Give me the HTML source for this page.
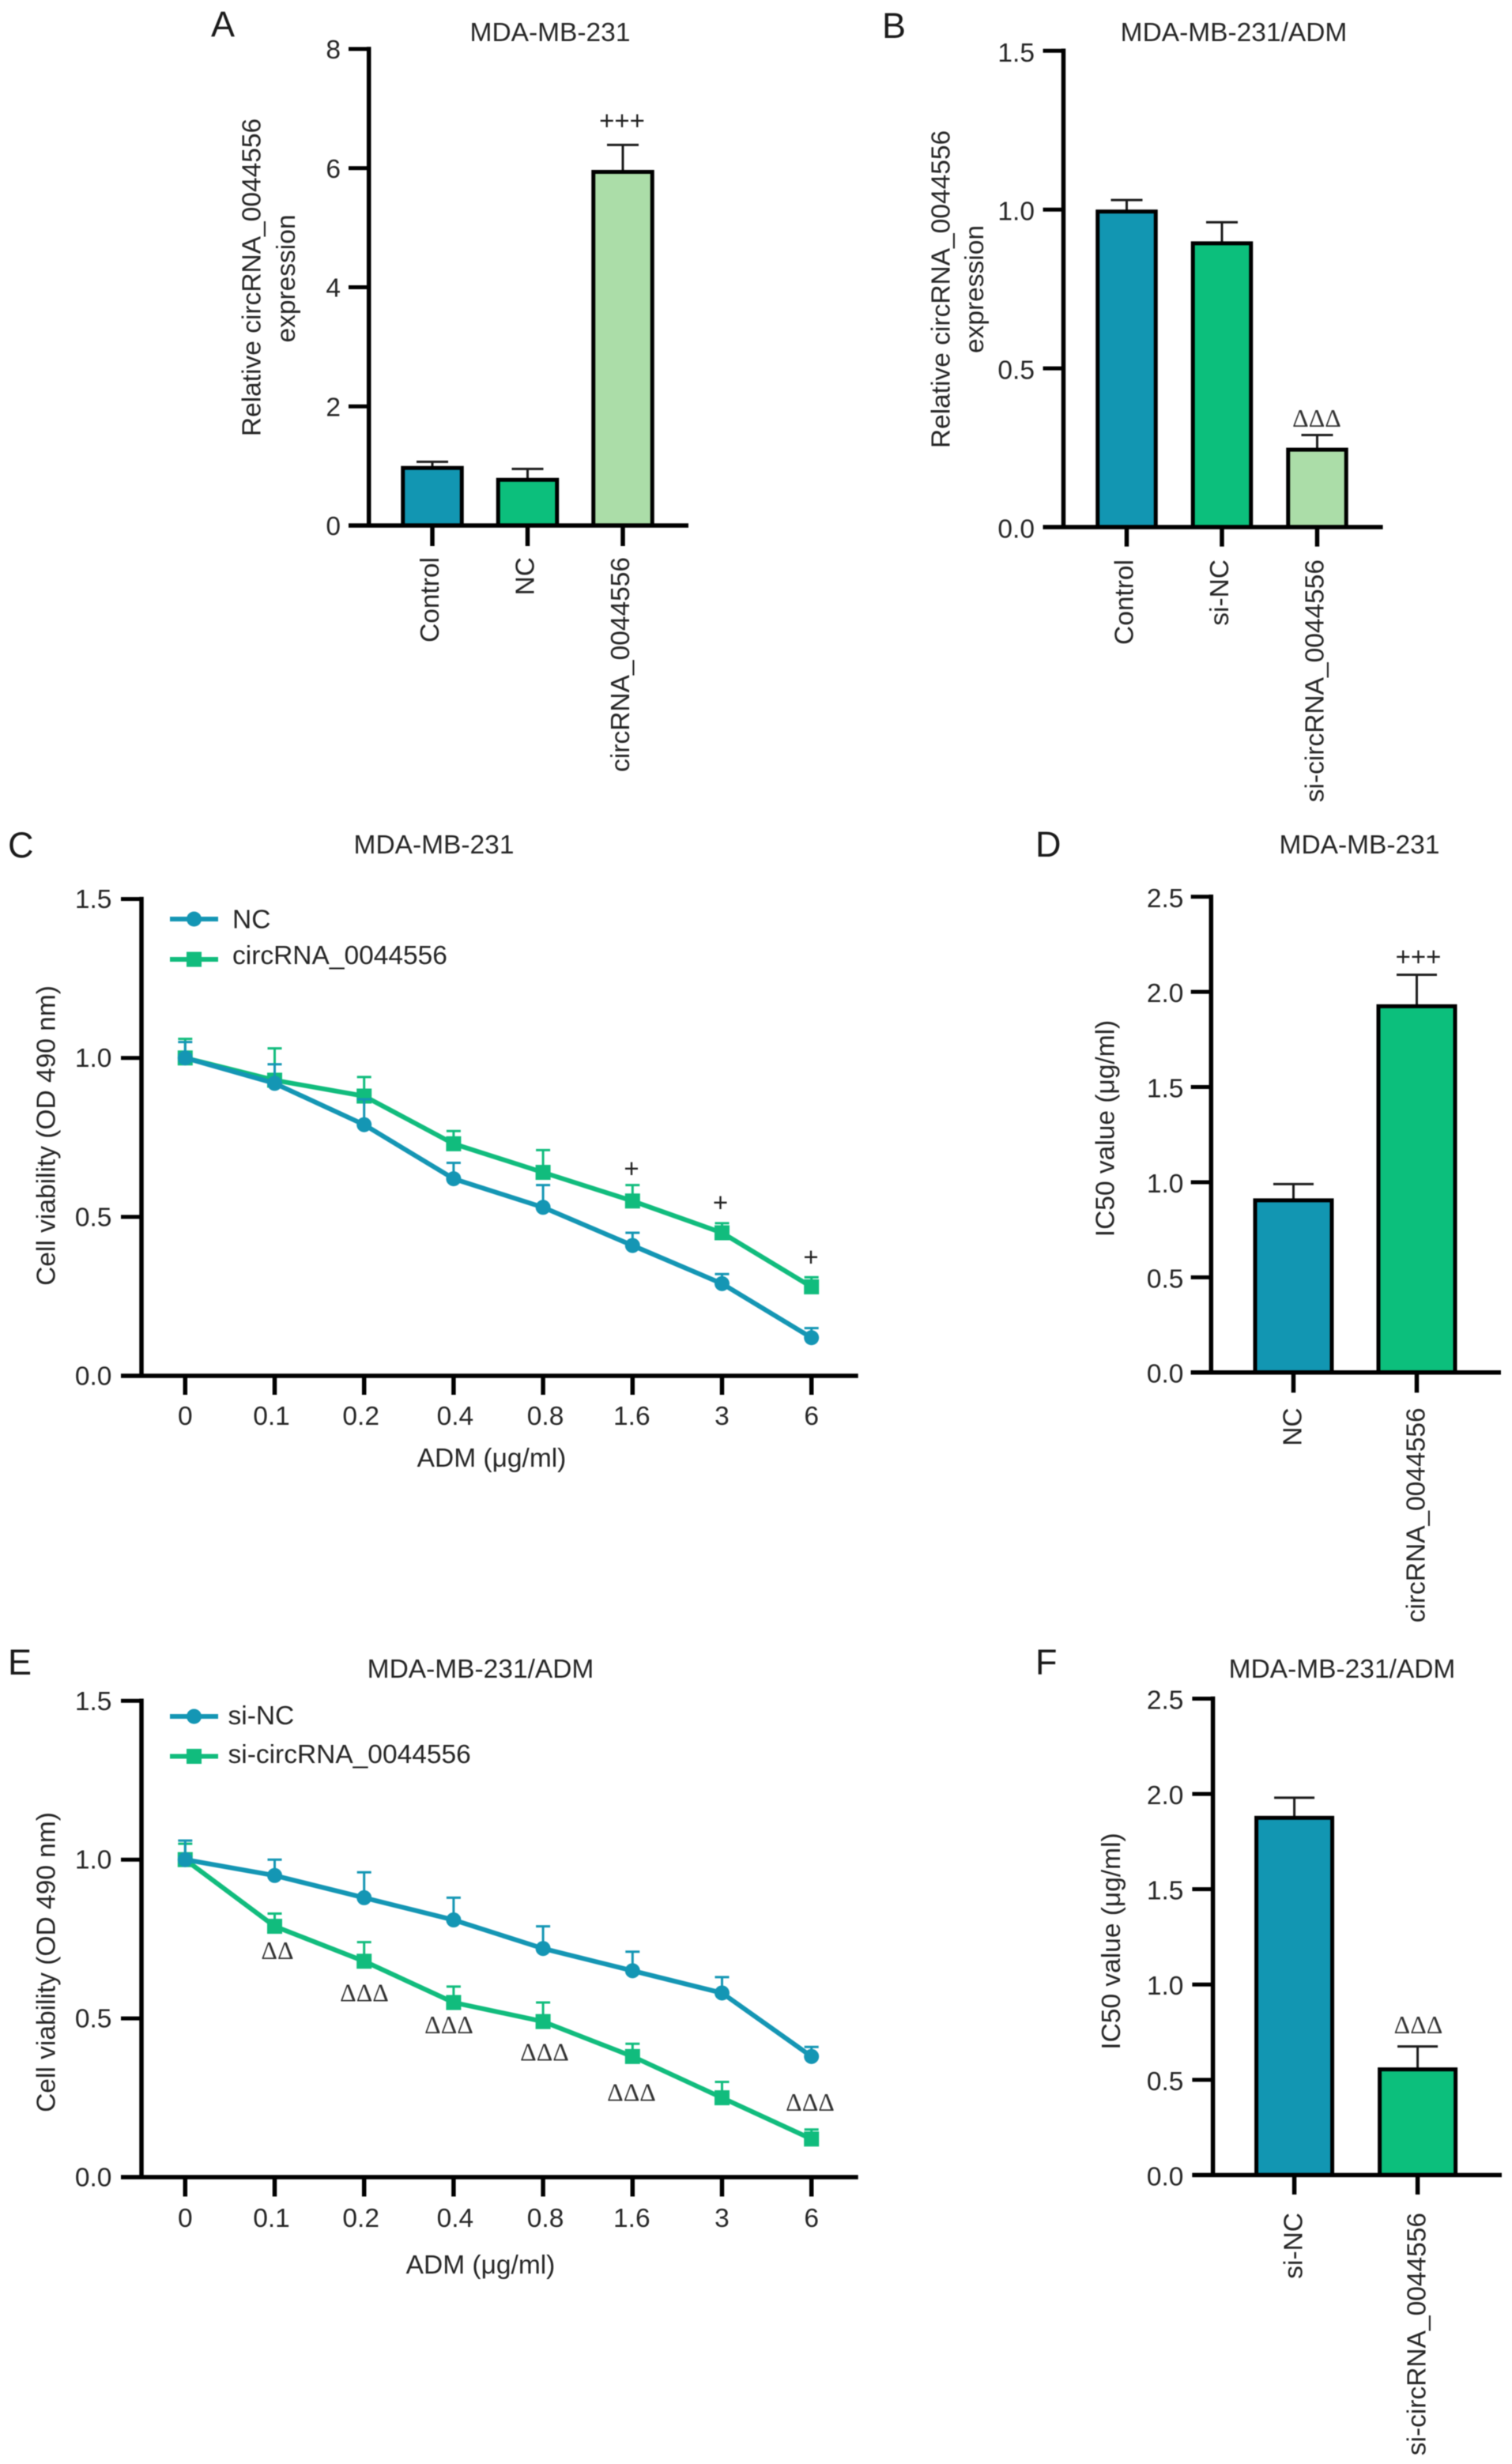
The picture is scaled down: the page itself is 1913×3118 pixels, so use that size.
<!DOCTYPE html>
<html lang="en">
<head>
<meta charset="utf-8">
<title>circRNA_0044556 figure panels A-F</title>
<style>
html,body{margin:0;padding:0;background:#fff;}
svg{display:block;filter:blur(0.55px);}
text{font-family:"Liberation Sans",sans-serif;font-size:33.5px;fill:#262626;}
.letter{font-size:45px;fill:#1a1a1a;}
.sig{font-family:"Liberation Serif",serif;font-size:32px;text-anchor:middle;fill:#333;}
.plus{font-family:"Liberation Sans",sans-serif;font-size:33px;text-anchor:middle;fill:#222;}
.mid{text-anchor:middle;}
</style>
</head>
<body>
<svg id="fig" xmlns="http://www.w3.org/2000/svg" width="1913" height="3118" viewBox="0 0 1913 3118">
<rect x="0" y="0" width="1913" height="3118" fill="#fff"/>

<g id="panel-a">
  <text class="letter" x="267" y="46">A</text>
  <text class="mid" x="696" y="52">MDA-MB-231</text>
  <text class="mid" transform="translate(329.5,351) rotate(-90)">Relative circRNA_0044556</text>
  <text class="mid" transform="translate(373,352.5) rotate(-90)">expression</text>
  <text class="plus" x="787" y="164">+++</text>
</g>

<g id="panel-b">
  <text class="letter" x="1116" y="48">B</text>
  <text class="mid" x="1561" y="52">MDA-MB-231/ADM</text>
  <text class="mid" transform="translate(1201.5,366) rotate(-90)">Relative circRNA_0044556</text>
  <text class="mid" transform="translate(1244,366) rotate(-90)">expression</text>
  <text class="sig" x="1666" y="540">ΔΔΔ</text>
</g>

<g id="panel-c">
  <text class="letter" x="10" y="1085">C</text>
  <text class="mid" x="549" y="1080">MDA-MB-231</text>
  <text class="mid" transform="translate(69.5,1437) rotate(-90)">Cell viability (OD 490 nm)</text>
  <text class="mid" x="622" y="1856">ADM (μg/ml)</text>
  <g>
    <g>
      <line x1="215" x2="276" y1="1163" y2="1163" stroke="#1496B4" stroke-width="6"/>
      <circle cx="245.5" cy="1163" r="9.5" fill="#1496B4"/>
      <text x="294" y="1174.5">NC</text>
    </g>
    <g>
      <line x1="215" x2="276" y1="1214" y2="1214" stroke="#11BC7D" stroke-width="6"/>
      <rect x="236" y="1204.5" width="19" height="19" fill="#11BC7D"/>
      <text x="294" y="1220">circRNA_0044556</text>
    </g>
  </g>
  <text class="plus" x="799" y="1490">+</text>
  <text class="plus" x="911.5" y="1533">+</text>
  <text class="plus" x="1026" y="1602">+</text>
</g>

<g id="panel-d">
  <text class="letter" x="1310" y="1084">D</text>
  <text class="mid" x="1720" y="1080">MDA-MB-231</text>
  <text class="mid" transform="translate(1409.5,1428) rotate(-90)">IC50 value (μg/ml)</text>
  <text class="plus" x="1794.5" y="1222">+++</text>
</g>

<g id="panel-e">
  <text class="letter" x="10" y="2119">E</text>
  <text class="mid" x="608" y="2123">MDA-MB-231/ADM</text>
  <text class="mid" transform="translate(69.5,2483) rotate(-90)">Cell viability (OD 490 nm)</text>
  <text class="mid" x="608" y="2877">ADM (μg/ml)</text>
  <g>
    <g>
      <line x1="215" x2="276" y1="2172" y2="2172" stroke="#1496B4" stroke-width="6"/>
      <circle cx="245.5" cy="2172" r="9.5" fill="#1496B4"/>
      <text x="288.5" y="2182">si-NC</text>
    </g>
    <g>
      <line x1="215" x2="276" y1="2222.5" y2="2222.5" stroke="#11BC7D" stroke-width="6"/>
      <rect x="236" y="2213" width="19" height="19" fill="#11BC7D"/>
      <text x="288.5" y="2231">si-circRNA_0044556</text>
    </g>
  </g>
  <text class="sig" x="351" y="2479">ΔΔ</text>
  <text class="sig" x="461" y="2532.5">ΔΔΔ</text>
  <text class="sig" x="568" y="2573">ΔΔΔ</text>
  <text class="sig" x="689" y="2607.5">ΔΔΔ</text>
  <text class="sig" x="799" y="2658.5">ΔΔΔ</text>
  <text class="sig" x="1025" y="2671">ΔΔΔ</text>
</g>

<g id="panel-f">
  <text class="letter" x="1310" y="2118.5">F</text>
  <text class="mid" x="1698" y="2123">MDA-MB-231/ADM</text>
  <text class="mid" transform="translate(1417,2456.5) rotate(-90)">IC50 value (μg/ml)</text>
  <text class="sig" x="1794.5" y="2573">ΔΔΔ</text>
</g>
</svg>

<script>
// ---- Panel A ----
const aCategories = ['Control', 'NC', 'circRNA_0044556'];
const aValues = [1.0, 0.8, 5.97];
const aErrors = [0.07, 0.15, 0.42];
const aTicks = ['0', '2', '4', '6', '8'];
// ---- Panel B ----
const bCategories = ['Control', 'si-NC', 'si-circRNA_0044556'];
const bValues = [1.0, 0.9, 0.25];
const bErrors = [0.03, 0.06, 0.04];
const bTicks = ['0.0', '0.5', '1.0', '1.5'];
// ---- Panel C ----
const doseLabels = ['0', '0.1', '0.2', '0.4', '0.8', '1.6', '3', '6'];
const viabilityTicks = ['0.0', '0.5', '1.0', '1.5'];
const cNcValues = [1.0, 0.92, 0.79, 0.62, 0.53, 0.41, 0.29, 0.12];
const cNcErrors = [0.05, 0.06, 0.08, 0.05, 0.07, 0.04, 0.03, 0.03];
const cCircValues = [1.0, 0.93, 0.88, 0.73, 0.64, 0.55, 0.45, 0.28];
const cCircErrors = [0.06, 0.10, 0.06, 0.04, 0.07, 0.05, 0.03, 0.03];
// ---- Panel D ----
const dCategories = ['NC', 'circRNA_0044556'];
const dValues = [0.915, 1.935];
const dErrors = [0.075, 0.155];
const icTicks = ['0.0', '0.5', '1.0', '1.5', '2.0', '2.5'];
// ---- Panel E ----
const eNcValues = [1.0, 0.95, 0.88, 0.81, 0.72, 0.65, 0.58, 0.38];
const eNcErrors = [0.06, 0.05, 0.08, 0.07, 0.07, 0.06, 0.05, 0.03];
const eCircValues = [1.0, 0.79, 0.68, 0.55, 0.49, 0.38, 0.25, 0.12];
const eCircErrors = [0.05, 0.04, 0.06, 0.05, 0.06, 0.04, 0.05, 0.03];
// ---- Panel F ----
const fCategories = ['si-NC', 'si-circRNA_0044556'];
const fValues = [1.885, 0.565];
const fErrors = [0.095, 0.11];

const NS = 'http://www.w3.org/2000/svg';
const BLUE = '#1296B2';
const GREEN = '#0CBF7C';
const PALE = '#ABDDA8';
const LINE_BLUE = '#1496B4';
const LINE_GREEN = '#11BC7D';

function mk(parent, tag, attrs, txt) {
  const el = document.createElementNS(NS, tag);
  for (const k in attrs) el.setAttribute(k, attrs[k]);
  if (txt !== undefined) el.textContent = txt;
  parent.appendChild(el);
  return el;
}

function linearY(y0, yTop, maxVal) {
  return function (v) { return y0 - (v / maxVal) * (y0 - yTop); };
}

function drawYAxis(g, g2, ticks, yOf) {
  let el = mk(g, 'line', { x1: g2.axisX, x2: g2.axisX, y1: yOf(parseFloat(ticks[ticks.length - 1])) - 2.75, y2: g2.y0, stroke: '#000', 'stroke-width': 5.5 });
  
  
  ticks.forEach(function (label) {
    const y = yOf(parseFloat(label));
    const t = mk(g, 'line', { x1: g2.tickLeft, x2: g2.axisX, y1: y, y2: y, stroke: '#000', 'stroke-width': 5 });
    
    
    const l = mk(g, 'text', { x: g2.numRight, y: y + g2.numDrop, 'text-anchor': 'end' }, label);
    
    
  });
}

function drawXAxisLine(g, g2) {
  const el = mk(g, 'line', { x1: g2.tickLeft, x2: g2.xEnd, y1: g2.y0, y2: g2.y0, stroke: '#000', 'stroke-width': 5.5 });
  
  
}

function drawBars(id, g2, categories, values, errors, ticks, colors) {
  const g = document.getElementById(id);
  const yOf = linearY(g2.y0, g2.yTop, g2.maxVal);
  categories.forEach(function (cat, i) {
    const cx = g2.first + i * g2.step;
    const top = yOf(values[i]) + 2.5;
    const capY = yOf(values[i] + errors[i]);
    const stem = mk(g, 'line', { x1: cx, x2: cx, y1: capY, y2: top, stroke: '#1c1c1c', 'stroke-width': 3 });
    
    
    const cap = mk(g, 'line', { x1: cx - g2.cap / 2, x2: cx + g2.cap / 2, y1: capY, y2: capY, stroke: '#1c1c1c', 'stroke-width': 3 });
    
    
    const bar = mk(g, 'rect', { x: cx - g2.bw / 2 + 2.5, y: top, width: g2.bw - 5, height: g2.y0 - top, fill: colors[i], stroke: '#000', 'stroke-width': 5 });
    
    
    const tick = mk(g, 'line', { x1: cx, x2: cx, y1: g2.y0, y2: g2.tickBottom, stroke: '#000', 'stroke-width': 5.5 });
    
    
    const bx = cx + g2.labelShift;
    const lab = mk(g, 'text', { transform: 'translate(' + bx + ',' + g2.labelTop + ') rotate(-90)', 'text-anchor': 'end' }, cat);
    
    
  });
  drawYAxis(g, g2, ticks, yOf);
  drawXAxisLine(g, g2);
}

function drawSeries(g, xOf, yOf, values, errors, color, shape) {
  values.forEach(function (v, i) {
    const x = xOf(i);
    const capY = yOf(v + errors[i]);
    const stem = mk(g, 'line', { x1: x, x2: x, y1: capY, y2: yOf(v), stroke: color, 'stroke-width': 3 });
    
    
    const cap = mk(g, 'line', { x1: x - 9, x2: x + 9, y1: capY, y2: capY, stroke: color, 'stroke-width': 3 });
    
    
  });
  const pts = values.map(function (v, i) { return xOf(i) + ',' + yOf(v); }).join(' ');
  const line = mk(g, 'polyline', { points: pts, fill: 'none', stroke: color, 'stroke-width': 6, 'stroke-linejoin': 'round' });
  
  
  values.forEach(function (v, i) {
    const x = xOf(i), y = yOf(v);
    let m;
    if (shape === 'circle') {
      m = mk(g, 'circle', { cx: x, cy: y, r: 9.5, fill: color });
    } else {
      m = mk(g, 'rect', { x: x - 9.5, y: y - 9.5, width: 19, height: 19, fill: color });
    }
    
    
  });
}

function drawLines(id, g2, ticks, labels, circ, circErr, nc, ncErr) {
  const g = document.getElementById(id);
  const yOf = linearY(g2.y0, g2.yTop, g2.maxVal);
  const xOf = function (i) { return g2.first + i * g2.step; };
  labels.forEach(function (label, i) {
    const x = xOf(i);
    const tick = mk(g, 'line', { x1: x, x2: x, y1: g2.y0, y2: g2.tickBottom, stroke: '#000', 'stroke-width': 5.5 });
    
    
    const lab = mk(g, 'text', { x: x + g2.labelNudge[i], y: g2.labelBase, 'text-anchor': 'middle' }, label);
    
    
  });
  drawYAxis(g, g2, ticks, yOf);
  drawXAxisLine(g, g2);
  drawSeries(g, xOf, yOf, circ, circErr, LINE_GREEN, 'square');
  drawSeries(g, xOf, yOf, nc, ncErr, LINE_BLUE, 'circle');
}

drawBars('panel-a', { axisX: 466.7, tickLeft: 441, xEnd: 871, y0: 665, yTop: 62, maxVal: 8, numRight: 431, numDrop: 12, first: 547, step: 120.5, bw: 79.5, cap: 40, tickBottom: 691, labelShift: 8, labelTop: 705 },
  aCategories, aValues, aErrors, aTicks, [BLUE, GREEN, PALE]);
drawBars('panel-b', { axisX: 1345.5, tickLeft: 1319.6, xEnd: 1749.6, y0: 667, yTop: 64.3, maxVal: 1.5, numRight: 1309, numDrop: 13.5, first: 1425.5, step: 120.5, bw: 78.5, cap: 40, tickBottom: 691.6, labelShift: 8, labelTop: 708 },
  bCategories, bValues, bErrors, bTicks, [BLUE, GREEN, PALE]);
drawLines('panel-c', { axisX: 179, tickLeft: 153, xEnd: 1085.7, y0: 1741, yTop: 1137.6, maxVal: 1.5, numRight: 141.4, numDrop: 11.5, first: 234.3, step: 113.2, tickBottom: 1765, labelBase: 1803, labelNudge: [0, -4, -4, 2, 3, -1, 0, 0] },
  viabilityTicks, doseLabels, cCircValues, cCircErrors, cNcValues, cNcErrors);
drawBars('panel-d', { axisX: 1532.3, tickLeft: 1506.7, xEnd: 1899, y0: 1736.7, yTop: 1134.8, maxVal: 2.5, numRight: 1497.4, numDrop: 13, first: 1636.5, step: 156, bw: 102, cap: 51, tickBottom: 1762.3, labelShift: 10, labelTop: 1781.4 },
  dCategories, dValues, dErrors, icTicks, [BLUE, GREEN]);
drawLines('panel-e', { axisX: 179, tickLeft: 153, xEnd: 1085.7, y0: 2755, yTop: 2152.3, maxVal: 1.5, numRight: 141.4, numDrop: 11.5, first: 234.3, step: 113.2, tickBottom: 2779.5, labelBase: 2818, labelNudge: [0, -4, -4, 2, 3, -1, 0, 0] },
  viabilityTicks, doseLabels, eCircValues, eCircErrors, eNcValues, eNcErrors);
drawBars('panel-f', { axisX: 1534.6, tickLeft: 1508.4, xEnd: 1900, y0: 2752.4, yTop: 2149.5, maxVal: 2.5, numRight: 1497.4, numDrop: 13, first: 1637.6, step: 156, bw: 101, cap: 51, tickBottom: 2777, labelShift: 10, labelTop: 2800 },
  fCategories, fValues, fErrors, icTicks, [BLUE, GREEN]);
</script>
</body>
</html>
